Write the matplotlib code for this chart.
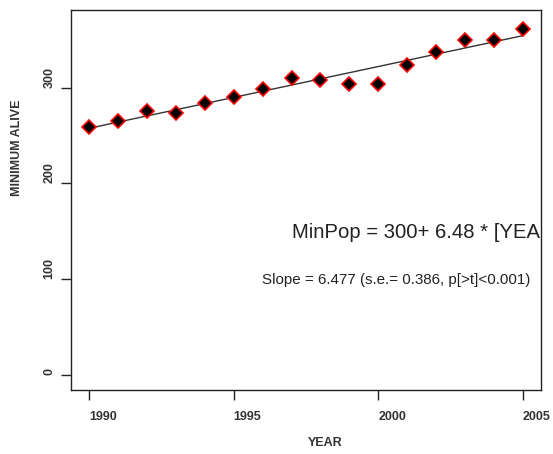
import numpy as np
import matplotlib
matplotlib.use('Agg')
import matplotlib.pyplot as plt

plt.rcParams['font.family'] = ['Liberation Sans', 'DejaVu Sans']

years = [1990, 1991, 1992, 1993, 1994, 1995, 1996, 1997,
         1998, 1999, 2000, 2001, 2002, 2003, 2004, 2005]
min_alive = [259, 265, 276, 273, 284, 290, 299, 310,
             308, 304, 304, 324, 337, 350, 350, 361]
xticks = [1990, 1995, 2000, 2005]
yticks = [0, 100, 200, 300]

x = np.array(years)
y = np.array(min_alive)
b, a = np.polyfit(x, y, 1)

W, H = 553, 454
fig = plt.figure(figsize=(W / 100, H / 100), dpi=100)
ax = fig.add_axes([71 / W, 1 - 390 / H, 470 / W, 380 / H])

ax.plot(x, a + b * x, color='#333333', lw=1.0, zorder=2)
ax.plot(x, y, 'D', ms=6.8, mfc='black', mec='red', mew=1.2, zorder=3)

ax.set_xlim(1989.38, 2005.62)
ax.set_ylim(-15.7, 381)
ax.set_xticks(xticks)
ax.set_yticks(yticks)
ax.tick_params(length=7, width=1.0, colors='#222222', labelsize=9)
ax.tick_params(axis='x', pad=8)
ax.tick_params(axis='y', labelrotation=90, pad=4)
for lab in ax.get_xticklabels():
    lab.set_fontweight('bold')
    lab.set_color('#333333')
    lab.set_ha('left')
for lab in ax.get_yticklabels():
    lab.set_fontweight('bold')
    lab.set_color('#333333')
    lab.set_va('bottom')
for s in ax.spines.values():
    s.set_linewidth(1.0)
    s.set_color('#222222')

fig.text(325 / W, 1 - 443 / H, 'YEAR', ha='center', va='center',
         fontsize=9, fontweight='bold', color='#333333')
fig.text(17.5 / W, 1 - 148 / H, 'MINIMUM ALIVE', ha='center', va='center',
         rotation=90, fontsize=9, fontweight='bold', color='#333333')

fig.text(292 / W, 1 - 232 / H, 'MinPop = 300+ 6.48 * [YEA', fontsize=14.6,
         color='#222222', va='center', ha='left')
fig.text(262 / W, 1 - 280 / H, 'Slope = 6.477 (s.e.= 0.386, p[>t]<0.001)',
         fontsize=10.9, color='#222222', va='center', ha='left')

fig.savefig('out.png', dpi=100)
